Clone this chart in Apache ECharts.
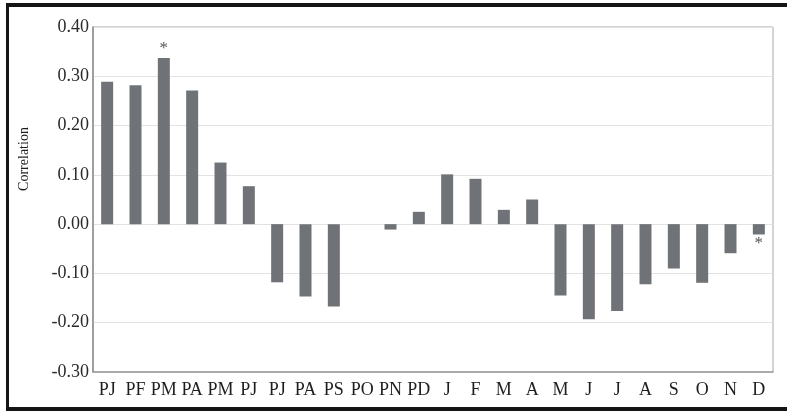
<!DOCTYPE html>
<html>
<head>
<meta charset="utf-8">
<script src="https://cdn.jsdelivr.net/npm/echarts@6/dist/echarts.min.js"></script>
<style>
  html, body { margin: 0; padding: 0; background: #fff; }
  #chart { width: 787px; height: 411px; }
</style>
</head>
<body>
<div id="chart"></div>
<script>
// Months of the previous year (P-) followed by the current year
const categories = ['PJ', 'PF', 'PM', 'PA', 'PM', 'PJ', 'PJ', 'PA', 'PS', 'PO', 'PN', 'PD',
                    'J', 'F', 'M', 'A', 'M', 'J', 'J', 'A', 'S', 'O', 'N', 'D'];

// Correlation coefficient for each month
const correlations = [0.289, 0.282, 0.337, 0.271, 0.125, 0.077, -0.118, -0.147, -0.167, 0.000, -0.011, 0.025,
                      0.101, 0.092, 0.029, 0.050, -0.145, -0.193, -0.176, -0.122, -0.090, -0.119, -0.059, -0.021];

// Significance markers
const significance = ['', '', '*', '', '', '', '', '', '', '', '', '',
                      '', '', '', '', '', '', '', '', '', '', '', '*'];

// Value axis range and tick step
const yMin = -0.3;
const yMax = 0.4;
const yStep = 0.1;

const serif = 'Liberation Serif';

const barData = correlations.map((v, i) => {
  const item = { value: v };
  if (significance[i]) {
    item.label = {
      show: true,
      formatter: significance[i],
      position: v >= 0 ? 'top' : 'bottom',
      distance: 1,
      fontSize: 17,
      color: '#555',
      fontFamily: serif
    };
  }
  return item;
});

const chart = echarts.init(document.getElementById('chart'));
chart.setOption({
  backgroundColor: '#ffffff',
  animation: false,
  grid: {
    left: 93,
    right: 14,
    top: 27,
    bottom: 39,
    show: true,
    borderColor: '#a8a8a8',
    borderWidth: 1,
    containLabel: false
  },
  xAxis: {
    type: 'category',
    data: categories,
    axisLine: { onZero: false, lineStyle: { color: '#9a9a9a', width: 1.5 } },
    axisTick: { show: false },
    axisLabel: {
      interval: 0,
      margin: 9,
      fontSize: 18,
      color: '#1e1e1e',
      fontFamily: serif
    },
    splitLine: { show: false }
  },
  yAxis: {
    type: 'value',
    min: yMin,
    max: yMax,
    interval: yStep,
    axisLine: { show: true, lineStyle: { color: '#8c8c8c', width: 1.5 } },
    axisTick: { show: false },
    axisLabel: {
      margin: 4,
      fontSize: 18,
      color: '#2a2a2a',
      fontFamily: serif,
      formatter: v => v.toFixed(2)
    },
    splitLine: { show: true, lineStyle: { color: '#e2e2e2', width: 1 } }
  },
  series: [{
    type: 'bar',
    data: barData,
    barWidth: 12,
    itemStyle: { color: '#6f7276' },
    label: { show: false }
  }],
  graphic: [
    {
      type: 'text',
      x: 24,
      y: 159,
      rotation: Math.PI / 2,
      style: {
        text: 'Correlation',
        align: 'center',
        verticalAlign: 'middle',
        fontSize: 14,
        fontFamily: serif,
        fill: '#1e1e1e'
      }
    },
    // dark outer frame
    { type: 'line', shape: { x1: 6, y1: 5, x2: 787, y2: 5 }, style: { stroke: '#151515', lineWidth: 4 } },
    { type: 'line', shape: { x1: 7.5, y1: 3, x2: 7.5, y2: 411 }, style: { stroke: '#151515', lineWidth: 3 } },
    { type: 'line', shape: { x1: 6, y1: 409, x2: 787, y2: 409 }, style: { stroke: '#151515', lineWidth: 4 } }
  ]
});
</script>
</body>
</html>
